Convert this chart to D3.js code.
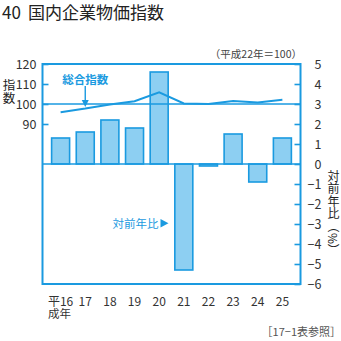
<!DOCTYPE html>
<html>
<head>
<meta charset="utf-8">
<script src="https://cdn.jsdelivr.net/npm/d3@7/dist/d3.min.js"></script>
<style>
  html, body { margin: 0; padding: 0; background: #fff; }
  svg { display: block; }
  text { font-family: "Liberation Sans Narrow", "Noto Sans CJK JP", sans-serif; fill: #333; }
  .cjk { font-family: "Noto Sans CJK JP", sans-serif; }
  .vert { writing-mode: vertical-rl; text-orientation: mixed; }
</style>
</head>
<body>
<script>
// 年（平成）
const years = ["16", "17", "18", "19", "20", "21", "22", "23", "24", "25"];
// 総合指数（平成22年＝100）
const indexValues = [95.9, 97.7, 99.8, 101.4, 105.8, 100.3, 100.0, 101.5, 100.8, 102.1];
// 対前年比（%）
const yoyValues = [1.3, 1.6, 2.2, 1.8, 4.6, -5.3, -0.1, 1.5, -0.9, 1.3];
// 目盛
const leftTicks = [90, 100, 110, 120];
const rightTicks = [-6, -5, -4, -3, -2, -1, 0, 1, 2, 3, 4, 5];

const W = 341, H = 341;
const BLUE = "#1a9ae0";
const LIGHT = "#8dcff2";
const plot = { left: 42.5, right: 300.5, top: 64, bottom: 284 };

const svg = d3.select("body").append("svg")
  .attr("width", W).attr("height", H);

const x = d3.scaleBand().domain(years)
  .range([plot.left, plot.right])
  .paddingInner(0.27).paddingOuter(0.37);
const yR = d3.scaleLinear().domain([-6, 5]).range([plot.bottom, plot.top]);
const yL = d3.scaleLinear().domain([10, 120]).range([plot.bottom, plot.top]);

// タイトル
const title = svg.append("text").attr("y", 19)
  .attr("class", "cjk")
  .style("font-size", "17px").style("fill", "#222");
title.append("tspan").attr("x", 2).text("40");
title.append("tspan").attr("x", 28).text("国内企業物価指数");

svg.append("text").attr("x", 302).attr("y", 57.5)
  .attr("class", "cjk").attr("text-anchor", "end")
  .style("font-size", "10.5px").style("fill", "#444")
  .text("（平成22年＝100）");

// 棒（対前年比）
svg.append("g").selectAll("rect").data(yoyValues).join("rect")
  .attr("x", (d, i) => x(years[i]))
  .attr("width", x.bandwidth())
  .attr("y", d => yR(Math.max(0, d)))
  .attr("height", d => Math.abs(yR(d) - yR(0)))
  .attr("fill", LIGHT).attr("stroke", BLUE).attr("stroke-width", 1.6);

// 基準線（100 と 0%）
[yL(100), yR(0)].forEach(yy => {
  svg.append("line")
    .attr("x1", plot.left).attr("x2", plot.right)
    .attr("y1", yy).attr("y2", yy)
    .attr("stroke", BLUE).attr("stroke-width", 1.6);
});

// 総合指数の折れ線
const line = d3.line()
  .x((d, i) => x(years[i]) + x.bandwidth() / 2)
  .y(d => yL(d));
svg.append("path").datum(indexValues)
  .attr("d", line).attr("fill", "none")
  .attr("stroke", BLUE).attr("stroke-width", 2);

// 枠
svg.append("rect")
  .attr("x", plot.left).attr("y", plot.top)
  .attr("width", plot.right - plot.left).attr("height", plot.bottom - plot.top)
  .attr("fill", "none").attr("stroke", BLUE).attr("stroke-width", 2);

// 左軸（指数）
const axL = svg.append("g").attr("transform", `translate(${plot.left},0)`)
  .call(d3.axisLeft(yL).tickValues(leftTicks).tickSizeInner(-6).tickSizeOuter(0).tickPadding(6));
axL.select(".domain").remove();
axL.selectAll(".tick line").attr("stroke", BLUE).attr("stroke-width", 1.6);
axL.selectAll(".tick text").style("font-size", "12.5px").style("fill", "#333")
  .attr("font-family", null);

// 右軸（対前年比）
const axR = svg.append("g").attr("transform", `translate(${plot.right},0)`)
  .call(d3.axisRight(yR).tickValues(rightTicks).tickSizeInner(-6).tickSizeOuter(0).tickPadding(6));
axR.select(".domain").remove();
axR.selectAll(".tick line").attr("stroke", BLUE).attr("stroke-width", 1.6);
axR.selectAll(".tick text").attr("x", 21).attr("text-anchor", "end")
  .style("font-size", "12.5px").style("fill", "#333").attr("font-family", null);

// 軸タイトル（縦書き）
svg.append("text").attr("class", "cjk vert")
  .attr("x", 9).attr("y", 79)
  .style("font-size", "12.5px").style("fill", "#222")
  .style("letter-spacing", "0.5px")
  .text("指数");
svg.append("text").attr("class", "cjk vert")
  .attr("x", 333.5).attr("y", 170)
  .style("font-size", "12px").style("fill", "#222")
  .style("letter-spacing", "0.6px")
  .text("対前年比（%）");

// X 軸ラベル
years.forEach((yv, i) => {
  const cx = x(yv) + x.bandwidth() / 2;
  const t = svg.append("text").attr("y", 306)
    .style("font-size", "12px").style("fill", "#333");
  if (i === 0) {
    t.append("tspan").attr("x", cx).attr("text-anchor", "middle").text("平" + yv);
    t.append("tspan").attr("class", "cjk").attr("x", 48).attr("dy", 12)
      .attr("text-anchor", "start").style("font-size", "11.5px").text("成年");
  } else {
    t.attr("x", cx).attr("text-anchor", "middle").text(yv);
  }
});

// 注釈：総合指数
const ax0 = x(years[1]) + x.bandwidth() / 2;
svg.append("text").attr("class", "cjk")
  .attr("x", ax0).attr("y", 83.5).attr("text-anchor", "middle")
  .style("font-size", "11.5px").style("font-weight", "bold").style("fill", BLUE)
  .text("総合指数");
svg.append("line").attr("x1", ax0).attr("x2", ax0).attr("y1", 86).attr("y2", 101)
  .attr("stroke", BLUE).attr("stroke-width", 1.4);
svg.append("path")
  .attr("d", `M${ax0 - 3.5},100 L${ax0 + 3.5},100 L${ax0},107 Z`)
  .attr("fill", BLUE);

// 注釈：対前年比
svg.append("text").attr("class", "cjk")
  .attr("x", 158.5).attr("y", 227.5).attr("text-anchor", "end")
  .style("font-size", "11.5px").style("fill", BLUE)
  .text("対前年比");
svg.append("path")
  .attr("d", "M160.5,219 L168.5,223.3 L160.5,227.6 Z")
  .attr("fill", BLUE);

// 出典
svg.append("text").attr("class", "cjk")
  .attr("x", 341).attr("y", 335.5).attr("text-anchor", "end")
  .style("font-size", "11px").style("fill", "#555")
  .text("［17−1表参照］");
</script>
</body>
</html>
